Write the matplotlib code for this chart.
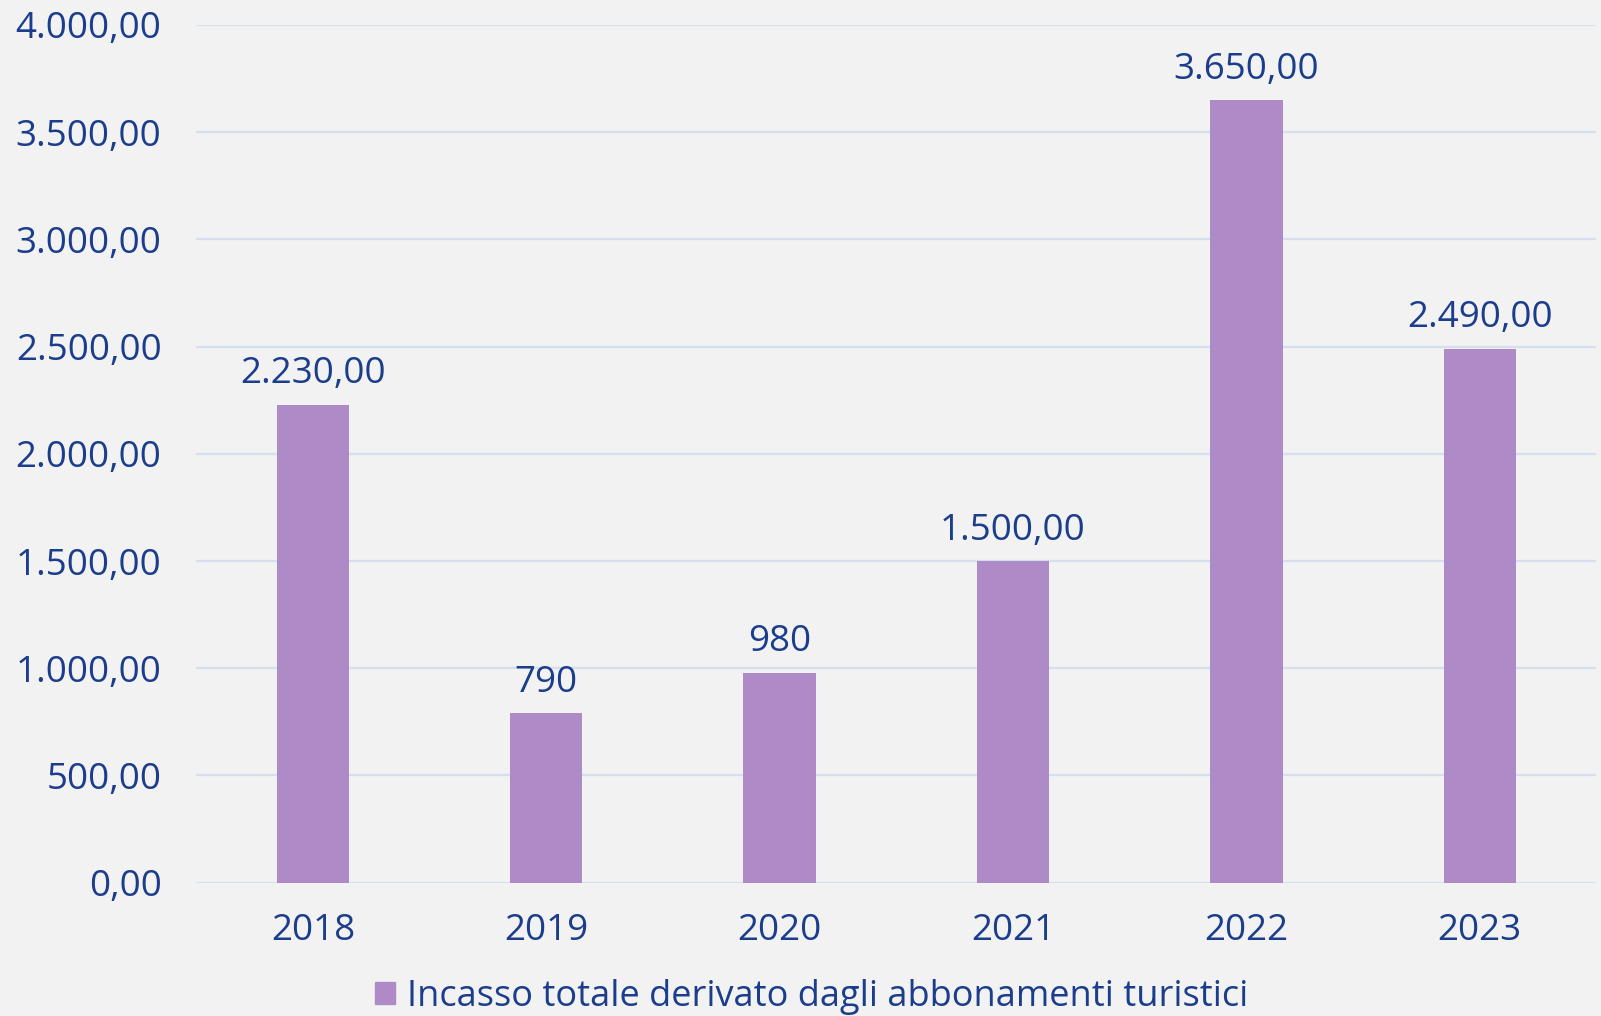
import matplotlib
matplotlib.use('Agg')
from matplotlib import pyplot as plt
from matplotlib.patches import Patch

# dati
anni = ['2018', '2019', '2020', '2021', '2022', '2023']
incasso = [2230, 790, 980, 1500, 3650, 2490]
etichette = ['2.230,00', '790', '980', '1.500,00', '3.650,00', '2.490,00']
y_ticks = [0, 500, 1000, 1500, 2000, 2500, 3000, 3500, 4000]
y_labels = ['0,00', '500,00', '1.000,00', '1.500,00', '2.000,00',
            '2.500,00', '3.000,00', '3.500,00', '4.000,00']
serie = 'Incasso totale derivato dagli abbonamenti turistici'

blu = '#1B3D8C'
viola = '#AE8BC6'
sfondo = '#F2F2F2'

plt.rcParams['font.family'] = ['Open Sans', 'DejaVu Sans']

fig = plt.figure(figsize=(16.01, 10.16), dpi=100, facecolor=sfondo)
ax = fig.add_axes([0.1226, 0.1312, 0.8745, 0.8442], facecolor=sfondo)

x = range(len(anni))
bars = ax.bar(x, incasso, width=0.31, color=viola, zorder=3)

for b, lab in zip(bars, etichette):
    ax.annotate(lab, (b.get_x() + b.get_width() / 2, b.get_height()),
                xytext=(0, 9), textcoords='offset points',
                ha='center', va='bottom', fontsize=26.5, color=blu)

ax.set_xlim(-0.5, len(anni) - 0.5)
ax.set_ylim(0, 4000)
ax.set_yticks(y_ticks)
ax.set_yticklabels(y_labels)
ax.set_xticks(list(x))
ax.set_xticklabels(anni)
ax.tick_params(axis='y', length=0, pad=25, labelsize=26.5, labelcolor=blu)
ax.tick_params(axis='x', length=0, pad=22, labelsize=26.5, labelcolor=blu)
ax.grid(axis='y', color='#D6DFF0', linewidth=1.6, zorder=0)
for s in ax.spines.values():
    s.set_visible(False)

fig.legend(handles=[Patch(color=viola, label=serie)], loc='center',
           bbox_to_anchor=(0.507, 0.019), frameon=False, fontsize=26,
           labelcolor=blu, handlelength=0.55, handleheight=0.55,
           handletextpad=0.35, borderpad=0)

plt.savefig('out.png', dpi=100, facecolor=sfondo)
